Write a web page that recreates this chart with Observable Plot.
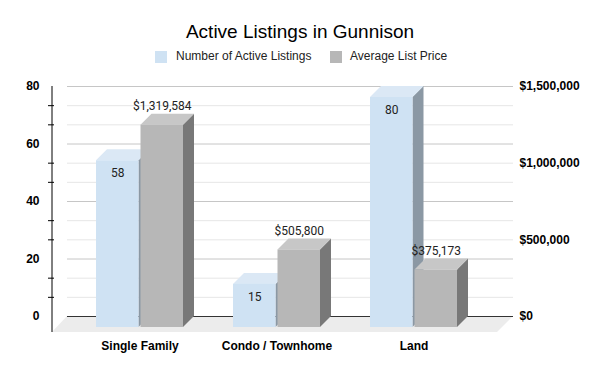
<!DOCTYPE html>
<html>
<head>
<meta charset="utf-8">
<script src="https://cdn.jsdelivr.net/npm/d3@7"></script>
<script src="https://cdn.jsdelivr.net/npm/@observablehq/plot@0.6"></script>
<style>
  html, body { margin: 0; padding: 0; background: #fff; }
  #wrap { width: 600px; height: 371px; position: relative; overflow: hidden; font-family: "Liberation Sans", Arial, sans-serif; }
  #head { position: relative; width: 600px; height: 70px; }
  #title { position: absolute; left: 0; top: 22px; width: 600px; text-align: center; font-size: 19px; line-height: 19px; color: #000; }
  .leg { position: absolute; top: 50px; font-size: 12px; line-height: 12px; color: #222; white-space: nowrap; }
  .sw { position: absolute; top: 51px; width: 12px; height: 12px; }
  #chart svg { display: block; }
  #chart [aria-label$="tick label"] { font-weight: bold; }
</style>
</head>
<body>
<div id="wrap">
  <div id="head">
    <div id="title"></div>
    <div class="sw" id="sw0"></div><div class="leg" id="lg0"></div>
    <div class="sw" id="sw1"></div><div class="leg" id="lg1"></div>
  </div>
  <div id="chart"></div>
</div>
<script>
// ---- data ----
const title = "Active Listings in Gunnison";
const categories = ["Single Family", "Condo / Townhome", "Land"];
const activeListings = [58, 15, 80];
const avgListPrice = [1319584, 505800, 375173];
const seriesNames = ["Number of Active Listings", "Average List Price"];
const leftTicks = [0, 20, 40, 60, 80];
const rightTicks = [0, 500000, 1000000, 1500000];
const countMax = 80;
const priceMax = 1500000;
const gridDivisions = 12;

// ---- style ----
const blue = {front: "#cfe2f3", top: "#dbe8f5", side: "#8b98a4"};
const gray = {front: "#b7b7b7", top: "#c7c7c7", side: "#787878"};
const D = 11;        // bar depth (px)
const half = 44.5;   // inset so two bars share a band
const floorDepth = 16;

const toCount = p => p * countMax / priceMax;
const fromCount = v => v * priceMax / countMax;

const rows = categories.map((c, i) => ({
  category: c,
  count: activeListings[i],
  price: avgListPrice[i],
  priceScaled: toCount(avgListPrice[i])
}));

const grid = d3.range(0, gridDivisions + 1).map(k => k * countMax / gridDivisions);
const majorGrid = grid.filter((v, k) => k % 3 === 0);
const minorGrid = grid.filter((v, k) => k % 3 !== 0);

// header
document.getElementById("title").textContent = title;
const legPos = [{sw: 155, tx: 176}, {sw: 330, tx: 350}];
[blue, gray].forEach((c, i) => {
  const sw = document.getElementById("sw" + i);
  sw.style.left = legPos[i].sw + "px";
  sw.style.background = c.front;
  const lg = document.getElementById("lg" + i);
  lg.style.left = legPos[i].tx + "px";
  lg.textContent = seriesNames[i];
});

// floor + left axis line
function floorMark(index, scales, values, dims) {
  const {width, marginLeft, marginRight} = dims;
  const y0 = scales.y(0);
  const yTop = scales.y(scales.y.domain()[1]);
  const L = marginLeft, R = width - marginRight;
  const g = d3.create("svg:g");
  g.append("path")
    .attr("d", `M${L + 13},${y0}L${R + 13},${y0}L${R - 3},${y0 + floorDepth}L${L - 2},${y0 + floorDepth}Z`)
    .attr("fill", "#ececec");
  g.append("line")
    .attr("x1", L - 2).attr("x2", L - 2)
    .attr("y1", yTop).attr("y2", y0 + floorDepth)
    .attr("stroke", "#000");
  return g.node();
}

// top + side faces of the 3D bars
function facesMark(field, left, col) {
  return function(index, scales) {
    const g = d3.create("svg:g");
    const bw = scales.x.bandwidth();
    const yb = scales.y(0) + D;
    rows.forEach(d => {
      const b = scales.x(d.category);
      const x0 = left ? b : b + half;
      const x1 = left ? b + bw - half : b + bw;
      const yt = scales.y(d[field]) + D;
      g.append("path")
        .attr("d", `M${x1},${yt}L${x1 + D},${yt - D}L${x1 + D},${yb - D}L${x1},${yb}Z`)
        .attr("fill", col.side);
      g.append("path")
        .attr("d", `M${x0},${yt}L${x0 + D},${yt - D}L${x1 + D},${yt - D}L${x1},${yt}Z`)
        .attr("fill", col.top);
    });
    return g.node();
  };
}

const chart = Plot.plot({
  width: 600,
  height: 301,
  marginTop: 16,
  marginBottom: 55,
  marginLeft: 54,
  marginRight: 100,
  style: {fontFamily: "'Liberation Sans', Arial, sans-serif", fontSize: "12px", background: "#fff", color: "#000"},
  x: {domain: categories, paddingInner: 0.362, paddingOuter: 0.297, label: null},
  y: {domain: [0, countMax], label: null},
  marks: [
    floorMark,
    Plot.ruleY(minorGrid, {dx: 13, stroke: "#e6e6e6"}),
    Plot.ruleY(majorGrid.filter(v => v > 0), {dx: 13, stroke: "#c6c6c6"}),
    Plot.ruleY([0], {dx: 13, stroke: "#333"}),
    facesMark("count", true, blue),
    Plot.barY(rows, {x: "category", y: "count", fill: blue.front, insetRight: half, dy: D}),
    facesMark("priceScaled", false, gray),
    Plot.barY(rows, {x: "category", y: "priceScaled", fill: gray.front, insetLeft: half, dy: D}),
    Plot.text(rows, {x: "category", y: "count", text: d => String(d.count), dx: -22.25, dy: D + 12.5,
      lineAnchor: "middle", fontFamily: "Roboto", fontSize: 12, fill: "#222"}),
    Plot.text(rows, {x: "category", y: "priceScaled", text: d => d3.format("$,")(d.price), dx: 22.25, dy: -8,
      lineAnchor: "middle", fontFamily: "Roboto", fontSize: 12, fill: "#222"}),
    Plot.axisY({ticks: leftTicks, anchor: "left", tickSize: 0, tickPadding: 15, fontWeight: "bold", fontSize: 12, label: null, fill: "#000"}),
    Plot.axisY({ticks: minorGrid, anchor: "left", tickSize: 6, tickFormat: () => "", label: null, stroke: "#000"}),
    Plot.axisY({ticks: rightTicks.map(toCount), anchor: "right", tickSize: 0, tickPadding: 19,
      tickFormat: v => d3.format("$,.0f")(fromCount(v)), fontWeight: "bold", fontSize: 12, label: null, fill: "#000"}),
    Plot.axisX({tickSize: 0, tickPadding: 25, fontWeight: "bold", fontSize: 12, label: null, fill: "#000"})
  ]
});
document.getElementById("chart").appendChild(chart);
</script>
</body>
</html>
